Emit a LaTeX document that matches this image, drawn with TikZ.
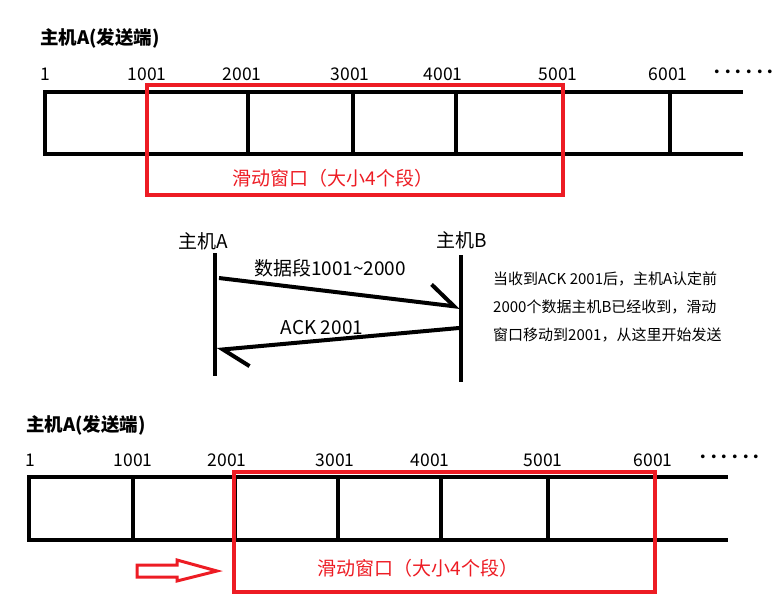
\documentclass[tikz,border=0pt]{standalone}
\usepackage{fontspec}
\newfontfamily\cjk{Noto Sans CJK SC}
\usetikzlibrary{arrows.meta}
\definecolor{paintred}{RGB}{237,28,36}
\newcommand{\tapedots}{\makebox[10.6pt]{·}\makebox[10.6pt]{·}\makebox[10.6pt]{·}\makebox[10.6pt]{·}\makebox[10.6pt]{·}\makebox[10.6pt]{·}}

\tikzset{
	tape/.style={line width=4pt, line cap=rect},
	winbox/.style={draw=paintred, line width=4pt},
	lifeline/.style={line width=4pt},
	msg/.style={line width=4pt, -{Straight Barb[harpoon, length=25pt, width=38pt, line cap=butt]}},
	title/.style={font=\cjk\bfseries\fontsize{18.5}{20}\selectfont, inner sep=0pt, anchor=west},
	num/.style={font=\cjk\fontsize{17.5}{20}\selectfont, inner sep=0pt},
	host/.style={font=\cjk\fontsize{19}{20}\selectfont, inner sep=0pt},
	winlbl/.style={font=\cjk\fontsize{19}{20}\selectfont, text=paintred, inner sep=0pt},
	note/.style={font=\cjk\fontsize{15}{28}\selectfont, inner sep=0pt, align=left, anchor=west}
}

\begin{document}
\begin{tikzpicture}[x=1pt, y=-1pt]
	\useasboundingbox (0,0) rectangle (778,608);

	% sender window before the ACK
	\node[title] (titleTop) at (40,38) {主机A(发送端)};
	\draw[tape] (45,92)--(741,92);
	\draw[tape] (45,154)--(741,154);
	\foreach \x in {45,147,248,353,456,563,670}
		\draw[tape] (\x,92)--(\x,154);
	\foreach \x/\t in {45/1,147/1001,242/2001,350/3001,443/4001,558/5001,668/6001}
		\node[num] at (\x,74) {\t};
	\node[num] (dotsTop) at (744,74) {\tapedots};
	\draw[winbox] (147,85) rectangle (563,195);
	\node[winlbl] (winTop) at (333,178) {滑动窗口（大小4个段）};

	% exchange between the two hosts
	\node[host] (hostA) at (203,241) {主机A};
	\node[host] (hostB) at (462,240) {主机B};
	\coordinate (aTop) at (215,253);
	\coordinate (aBot) at (215,376);
	\coordinate (bTop) at (461,255);
	\coordinate (bBot) at (461,382);
	\draw[lifeline] (aTop)--(aBot);
	\draw[lifeline] (bTop)--(bBot);
	\coordinate (dataS) at (219,278);
	\coordinate (dataE) at (460,307);
	\coordinate (ackS) at (459,328);
	\coordinate (ackE) at (217,350);
	\draw[msg] (dataS)--(dataE);
	\draw[msg] (ackS)--(ackE);
	\node[host] (dataLbl) at (330,268) {数据段1001\textasciitilde 2000};
	\node[host] (ackLbl) at (322,328) {ACK 2001};
	\node[note] (noteTxt) at (493,307) {当收到ACK 2001后，主机A认定前\\2000个数据主机B已经收到，滑动\\窗口移动到2001，从这里开始发送};

	% sender window after the ACK
	\node[title] (titleBot) at (26,425) {主机A(发送端)};
	\draw[tape] (29,477)--(726,477);
	\draw[tape] (29,540)--(726,540);
	\foreach \x in {29,133,235,338,441,548,655}
		\draw[tape] (\x,477)--(\x,540);
	\foreach \x/\t in {30/1,133/1001,227/2001,335/3001,430/4001,543/5001,653/6001}
		\node[num] at (\x,460) {\t};
	\node[num] (dotsBot) at (730,459) {\tapedots};
	\draw[winbox] (234,472) rectangle (655,592);
	\node[winlbl] (winBot) at (418,568) {滑动窗口（大小4个段）};
	\draw[paintred, line width=3pt] (137,565)--(177,565)--(177,560)--(217,571)--(177,581)--(177,577)--(137,577)--cycle;
\end{tikzpicture}
\end{document}
